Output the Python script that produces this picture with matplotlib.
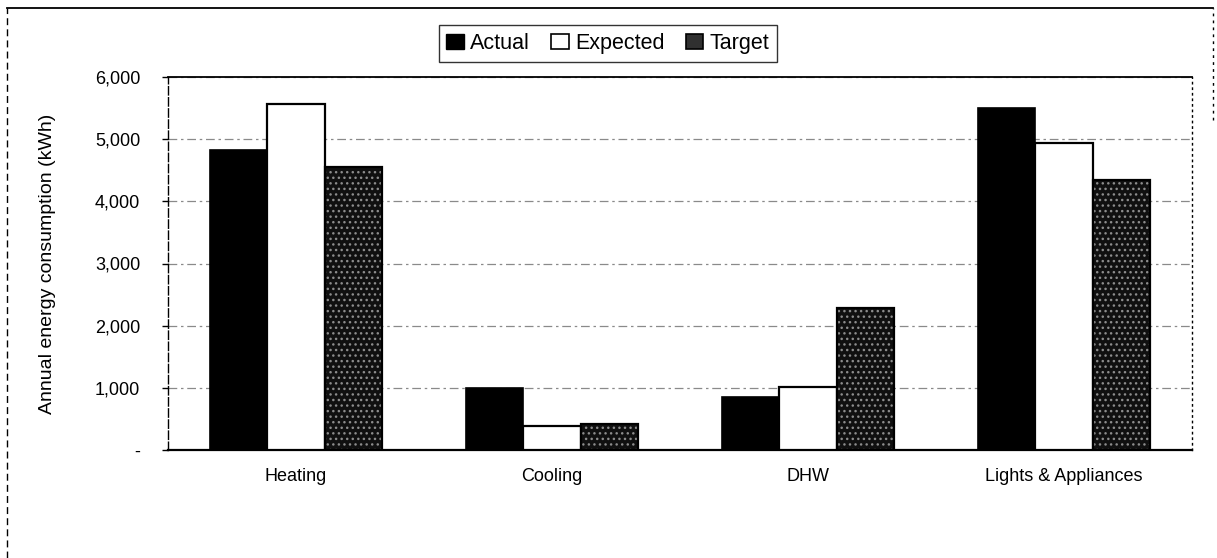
import matplotlib
matplotlib.use("Agg")
import matplotlib.pyplot as plt
import numpy as np
from matplotlib.lines import Line2D
from matplotlib.patches import Patch
from matplotlib.ticker import FuncFormatter

plt.rcParams['font.family'] = ['Liberation Sans', 'DejaVu Sans']
plt.rcParams['hatch.linewidth'] = 1.0

categories = ["Heating", "Cooling", "DHW", "Lights & Appliances"]
actual = [4820, 990, 850, 5500]
expected = [5560, 390, 1010, 4940]
target = [4550, 420, 2280, 4340]
series_names = ["Actual", "Expected", "Target"]
yticks = [0, 1000, 2000, 3000, 4000, 5000, 6000]

W, H = 1217, 558
fig = plt.figure(figsize=(W / 100, H / 100), dpi=100)
ax = fig.add_axes([168 / W, 1 - 450 / H, (1192 - 168) / W, (450 - 77) / H])

x = np.arange(len(categories))
bw = 0.223
ax.bar(x - bw, actual, bw, color='black', edgecolor='black', linewidth=1.2, zorder=3)
ax.bar(x, expected, bw, color='white', edgecolor='black', linewidth=1.6, zorder=3)
# Target: stippled dark texture
ax.bar(x + bw, target, bw, color='#101010', edgecolor='#8c8c8c', hatch='...', linewidth=0, zorder=3)
ax.bar(x + bw, target, bw, fill=False, edgecolor='black', linewidth=1.6, zorder=4)

ax.set_xlim(-0.5, len(categories) - 0.5)
ax.set_ylim(0, 6000)
ax.set_yticks(yticks)
ax.yaxis.set_major_formatter(FuncFormatter(lambda v, p: '-' if v == 0 else f"{int(v):,}"))
ax.set_xticks(x)
ax.set_xticklabels(categories, fontsize=13)
ax.tick_params(axis='x', length=0, pad=13)
ax.tick_params(axis='y', length=4, width=1, pad=16, labelsize=13)

ax.yaxis.grid(True, color='#8a8a8a', linestyle=(0, (7, 3, 2, 3)), linewidth=0.9, zorder=0)
ax.set_ylabel("Annual energy consumption (kWh)", fontsize=14, labelpad=28)

ax.spines['top'].set_visible(True)
ax.spines['top'].set_linewidth(1.3)
ax.spines['bottom'].set_linewidth(1.6)
ax.spines['left'].set_linestyle((0, (6, 2)))
ax.spines['left'].set_linewidth(1.0)
ax.spines['right'].set_linestyle((0, (1, 3)))
ax.spines['right'].set_linewidth(1.0)

handles = [
    Patch(facecolor='black', edgecolor='black', linewidth=1),
    Patch(facecolor='white', edgecolor='black', linewidth=1.2),
    Patch(facecolor='#303030', edgecolor='black', linewidth=1.2),
]
leg = fig.legend(handles, series_names, loc='center', bbox_to_anchor=(608 / W, 1 - 43.5 / H),
                 ncol=3, fontsize=15.5, frameon=True, fancybox=False, edgecolor='black',
                 handlelength=0.8, handleheight=0.7, handletextpad=0.3, columnspacing=1.0,
                 borderpad=0.35)
leg.get_frame().set_linewidth(1.0)

# Figure outer frame
fig.add_artist(Line2D([7 / W, 1213 / W], [1 - 8 / H, 1 - 8 / H], transform=fig.transFigure, color='black', lw=1.3))
fig.add_artist(Line2D([7 / W, 7 / W], [0, 1 - 8 / H], transform=fig.transFigure, color='black', lw=1.0,
                      linestyle=(0, (5, 3))))
fig.add_artist(Line2D([1213 / W, 1213 / W], [1 - 120 / H, 1 - 8 / H], transform=fig.transFigure, color='black', lw=1.0,
                      linestyle=(0, (2, 3))))

fig.savefig("out.png", dpi=100)
